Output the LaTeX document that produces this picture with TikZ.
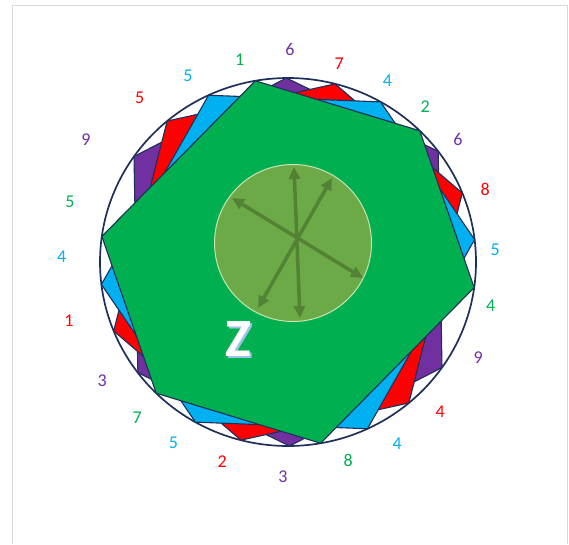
\documentclass[tikz,border=0pt]{standalone}
\usepackage{fontspec}
\newfontfamily\carl{Carlito}
\usetikzlibrary{arrows.meta}
\definecolor{hpurple}{HTML}{7030A0}
\definecolor{hred}{HTML}{FF0000}
\definecolor{hblue}{HTML}{00B0F0}
\definecolor{hgreen}{HTML}{00B050}
\definecolor{edgecol}{HTML}{1F2F5A}
\definecolor{disccol}{HTML}{6BAA47}
\definecolor{discrim}{HTML}{C9E3B5}
\definecolor{arrcol}{HTML}{548235}
\definecolor{framecol}{HTML}{D9D9D9}
\definecolor{zshadow}{HTML}{9DC3E6}
\tikzset{
  hexa/.style={draw=edgecol, line width=1.1pt, line join=miter},
  lbl/.style={font=\carl\fontsize{18}{18}\selectfont, inner sep=0pt},
  dblarrow/.style={draw=arrcol, line width=3.5pt,
    {Triangle[length=12pt,width=11pt]}-{Triangle[length=12pt,width=11pt]}},
  zfont/.style={font=\carl\bfseries\fontsize{54}{54}\selectfont, inner sep=0pt}
}
\begin{document}
\begin{tikzpicture}[x=1pt, y=-1pt]
\useasboundingbox (0,0) rectangle (569,544);
% frame
\draw[framecol, line width=1pt] (12,544) -- (12,5.5) -- (567.5,5.5) -- (567.5,544);
% outer circle
\coordinate (C) at (288,262);
\draw[edgecol, line width=1.7pt] (C) ellipse [x radius=188pt, y radius=184pt];
% rotated hexagons
\foreach \r/\c in {45/hpurple,30/hred,15/hblue,0/hgreen}{
  \filldraw[hexa, fill=\c]
    ({288+188*cos(100+\r)},{262-184*sin(100+\r)}) --
    ({288+188*cos(45.5+\r)},{262-184*sin(45.5+\r)}) --
    ({288+188*cos(-8+\r)},{262-184*sin(-8+\r)}) --
    ({288+188*cos(-80+\r)},{262-184*sin(-80+\r)}) --
    ({288+188*cos(-134.5+\r)},{262-184*sin(-134.5+\r)}) --
    ({288+188*cos(172+\r)},{262-184*sin(172+\r)}) -- cycle;
}
% inner disc
\coordinate (D) at (293,243);
\draw[fill=disccol, draw=discrim, line width=1pt] (D) circle [radius=78.5pt];
% arrows
\coordinate (a1s) at (300,318);
\coordinate (a1e) at (294,167);
\coordinate (a2s) at (258,308);
\coordinate (a2e) at (332,178);
\coordinate (a3s) at (232,198);
\coordinate (a3e) at (363,278);
\draw[dblarrow] (a1s) -- (a1e);
\draw[dblarrow] (a2s) -- (a2e);
\draw[dblarrow] (a3s) -- (a3e);
% Z with soft shadow
\node[zfont] (z) at (238,340) {\rlap{\kern2pt\raisebox{-2pt}{\textcolor{zshadow}{Z}}}\textcolor{white}{Z}};
% labels
\node[lbl, text=hpurple] (l1) at (290,49.6) {6};
\node[lbl, text=hred] (l2) at (339.3,63.5) {7};
\node[lbl, text=hblue] (l3) at (387.5,80.5) {4};
\node[lbl, text=hgreen] (l4) at (425.3,106.9) {2};
\node[lbl, text=hpurple] (l5) at (457.9,139.8) {6};
\node[lbl, text=hred] (l6) at (485.1,189.1) {8};
\node[lbl, text=hblue] (l7) at (495.3,249.8) {5};
\node[lbl, text=hgreen] (l8) at (490.6,306.0) {4};
\node[lbl, text=hpurple] (l9) at (478.2,357.4) {9};
\node[lbl, text=hred] (l10) at (440.1,412.2) {4};
\node[lbl, text=hblue] (l11) at (397.3,444.1) {4};
\node[lbl, text=hgreen] (l12) at (348.3,460.8) {8};
\node[lbl, text=hpurple] (l13) at (283.0,477.1) {3};
\node[lbl, text=hred] (l14) at (222.1,461.5) {2};
\node[lbl, text=hblue] (l15) at (173.4,442.7) {5};
\node[lbl, text=hgreen] (l16) at (137.2,417.4) {7};
\node[lbl, text=hpurple] (l17) at (102.3,380.6) {3};
\node[lbl, text=hred] (l18) at (68.9,321.0) {1};
\node[lbl, text=hblue] (l19) at (61.7,256.8) {4};
\node[lbl, text=hgreen] (l20) at (70.0,201.9) {5};
\node[lbl, text=hpurple] (l21) at (86.0,139.8) {9};
\node[lbl, text=hred] (l22) at (139.7,97.8) {5};
\node[lbl, text=hblue] (l23) at (188.0,75.3) {5};
\node[lbl, text=hgreen] (l24) at (239.8,60.0) {1};
\end{tikzpicture}
\end{document}
